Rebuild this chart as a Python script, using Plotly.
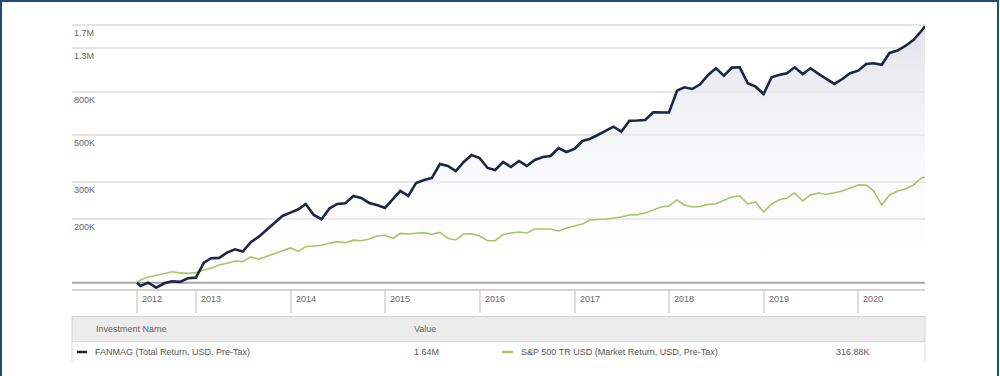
import math
import pandas as pd
import plotly.graph_objects as go

# ---------------- data (values in thousands of USD, growth of 100K) ----------------
dates = (["2012-05-18"]
         + [d.strftime("%Y-%m-%d") for d in pd.date_range("2012-05-31", "2020-08-31", freq="ME")]
         + ["2020-09-14"])

fanmag = [
    100, 96.5, 100, 94.7, 99.3, 101.5, 100.8, 104.9, 105.6,
    124.4, 130.5, 131, 138.7, 143.9, 140.3, 155.4, 165.2, 177.7, 192.5, 207.1, 214.7,
    222.8, 236, 209.4, 199.8, 225.2, 236, 237.8, 257.6, 252, 238.6, 233.4, 225.9,
    249.3, 272, 257.6, 296.9, 306.6, 313.4, 365.2, 357.4, 338.3, 373.3, 402.9, 389.9,
    349.6, 342, 373.3, 353.4, 377.4, 357.4, 381.5, 394.2, 398.6, 434.9, 416.3, 430.1,
    469.4, 479.7, 501.2, 523.6, 548.7, 519.5, 585.9, 587, 590.4, 642.1, 639.7, 641,
    812.8, 843.6, 827.9, 871.6, 964.7, 1038, 957.2, 1045, 1049, 881, 849, 783.9,
    940.8, 964.7, 982.7, 1049, 975.2, 1038, 976, 920.4, 874.5, 923.5, 983, 1011,
    1088, 1096, 1079, 1227, 1260, 1324, 1413, 1559, 1640,
]

sp500 = [
    100, 102.8, 106.4, 108.2, 110.6, 112.6, 111.2, 110.8, 111.5,
    114.9, 117, 121.3, 123.6, 126.7, 125.8, 132.4, 129.1, 133, 137.5, 142.1, 146,
    141, 148.1, 149.3, 150.4, 153.7, 156.4, 154.7, 159, 158.1, 161.1, 166.5, 167.7,
    162.3, 171.1, 170.1, 171.6, 172.6, 169.5, 173, 162.3, 159.3, 170.1, 170.4, 166.5,
    158, 158, 169, 172, 173.9, 172, 179.7, 179.7, 179.5, 175.8, 181.6, 185.6,
    189.7, 198.2, 198.5, 200.4, 202.6, 204.8, 209.4, 210, 214, 221.1, 228.5, 231,
    246.6, 233.4, 228.5, 229.5, 235, 236.5, 246.6, 254.8, 257.6, 236, 241.3, 216.3,
    236, 246.6, 252, 266.2, 243.9, 260.4, 266, 261.8, 266.6, 272, 281.1, 290.4,
    290, 272, 233.4, 260.4, 272, 278.1, 290.4, 313.4, 316.88,
]

start_value = 100
y_tick_vals = [200, 300, 500, 800, 1300, 1665]
y_tick_text = ["200K", "300K", "500K", "800K", "1.3M", "1.7M"]

x_tick_vals = ["2012-05-18", "2013-01-01", "2014-01-01", "2015-01-01", "2016-01-01",
               "2017-01-01", "2018-01-01", "2019-01-01", "2020-01-01"]
x_tick_text = ["2012", "2013", "2014", "2015", "2016", "2017", "2018", "2019", "2020"]

series_names = ["FANMAG (Total Return, USD, Pre-Tax)",
                "S&P 500 TR USD (Market Return, USD, Pre-Tax)"]

# ---------------- styling ----------------
NAVY = "#1c2644"
GREEN = "#a8c466"
TXT = "#666666"
FONT = "Liberation Sans, Arial, sans-serif"
FS = 9

W, H = 1000, 376
ML, MR, MT, MB = 72, 75, 22, 87
PW, PH = W - ML - MR, H - MT - MB


def px(x):
    return (x - ML) / PW


def py(y):
    return (H - MB - y) / PH


fig = go.Figure()

# baseline helper for the area fill (growth starts at start_value)
fig.add_trace(go.Scatter(
    x=dates, y=[start_value] * len(dates), mode="lines",
    line=dict(width=0, color="rgba(0,0,0,0)"), hoverinfo="skip", showlegend=False,
))
fig.add_trace(go.Scatter(
    x=dates, y=fanmag, mode="lines", line=dict(width=0, color="rgba(0,0,0,0)"),
    fill="tonexty", hoverinfo="skip", showlegend=False,
    fillgradient=dict(type="vertical",
                      colorscale=[[0, "rgba(255,255,255,0)"], [1, "#e1e3eb"]]),
))
fig.add_trace(go.Scatter(
    x=dates, y=sp500, mode="lines", name=series_names[1],
    line=dict(color=GREEN, width=1.6), showlegend=False,
))
fig.add_trace(go.Scatter(
    x=dates, y=fanmag, mode="lines", name=series_names[0],
    line=dict(color=NAVY, width=2.6), showlegend=False,
))

shapes = []
shapes.append(dict(type="line", xref="paper", yref="y", x0=0, x1=1, y0=start_value, y1=start_value,
                   line=dict(color="#a8a8a8", width=2), layer="below"))

annotations = []
for v, t in zip(y_tick_vals, y_tick_text):
    annotations.append(dict(x=0, xref="paper", y=math.log10(v), yref="y", text=t,
                            xanchor="left", yanchor="top", yshift=-1, showarrow=False,
                            font=dict(family=FONT, size=FS, color=TXT)))
for v, t in zip(x_tick_vals, x_tick_text):
    annotations.append(dict(x=v, xref="x", y=py(299), yref="paper", text=t,
                            xanchor="left", yanchor="middle", xshift=3, showarrow=False,
                            font=dict(family=FONT, size=FS, color=TXT)))

# ---------------- table ----------------
shapes.append(dict(type="rect", xref="paper", yref="paper", x0=0, x1=1, y0=py(341.7), y1=py(316.5),
                   fillcolor="#ececec", line=dict(color="#d2d2d2", width=1)))
for xx in (0, 1):
    shapes.append(dict(type="line", xref="paper", yref="paper", x0=xx, x1=xx, y0=py(362), y1=py(341.7),
                       line=dict(color="#dadada", width=1)))
annotations.append(dict(x=px(94), xref="paper", y=py(329), yref="paper", text="Investment Name",
                        xanchor="left", yanchor="middle", showarrow=False,
                        font=dict(family=FONT, size=FS, color=TXT)))
annotations.append(dict(x=px(412), xref="paper", y=py(329), yref="paper", text="Value",
                        xanchor="left", yanchor="middle", showarrow=False,
                        font=dict(family=FONT, size=FS, color=TXT)))
row_y = py(352)
shapes.append(dict(type="line", xref="paper", yref="paper", x0=px(77), x1=px(87), y0=row_y, y1=row_y,
                   line=dict(color=NAVY, width=2.5)))
shapes.append(dict(type="line", xref="paper", yref="paper", x0=px(502), x1=px(513), y0=row_y, y1=row_y,
                   line=dict(color=GREEN, width=2.5)))
row_items = [
    (px(93), series_names[0]),
    (px(412), f"{fanmag[-1] / 1000:.2f}M"),
    (px(519), series_names[1]),
    (px(834), f"{sp500[-1]:.2f}K"),
]
for xx, t in row_items:
    annotations.append(dict(x=xx, xref="paper", y=row_y, yref="paper", text=t,
                            xanchor="left", yanchor="middle", showarrow=False,
                            font=dict(family=FONT, size=FS, color="#555555")))

shapes.append(dict(type="rect", xref="paper", yref="paper", x0=px(1), x1=px(998), y0=py(385), y1=py(1),
                   line=dict(color="#1f4c74", width=2), fillcolor="rgba(0,0,0,0)"))

fig.update_layout(
    width=W, height=H,
    margin=dict(l=ML, r=MR, t=MT, b=MB, pad=0),
    paper_bgcolor="white", plot_bgcolor="white",
    showlegend=False,
    shapes=shapes, annotations=annotations,
    xaxis=dict(type="date", range=["2011-09-10", "2020-09-14"], showgrid=False, zeroline=False,
               tickvals=x_tick_vals, showticklabels=False, ticks="outside", ticklen=22,
               tickwidth=1.5, tickcolor="#dedede", showline=True, linecolor="#d4d4d4", linewidth=2,
               fixedrange=True),
    yaxis=dict(type="log", range=[math.log10(93.3), math.log10(1720)], tickvals=y_tick_vals,
               showticklabels=False, ticks="", showgrid=True, gridcolor="#e4e4e4", gridwidth=2,
               zeroline=False, showline=False, fixedrange=True),
    font=dict(family=FONT, size=FS, color=TXT),
)

fig.write_html("out.html", config={"displayModeBar": False},
               post_script="document.body.style.margin='0';document.body.style.overflow='hidden';")
